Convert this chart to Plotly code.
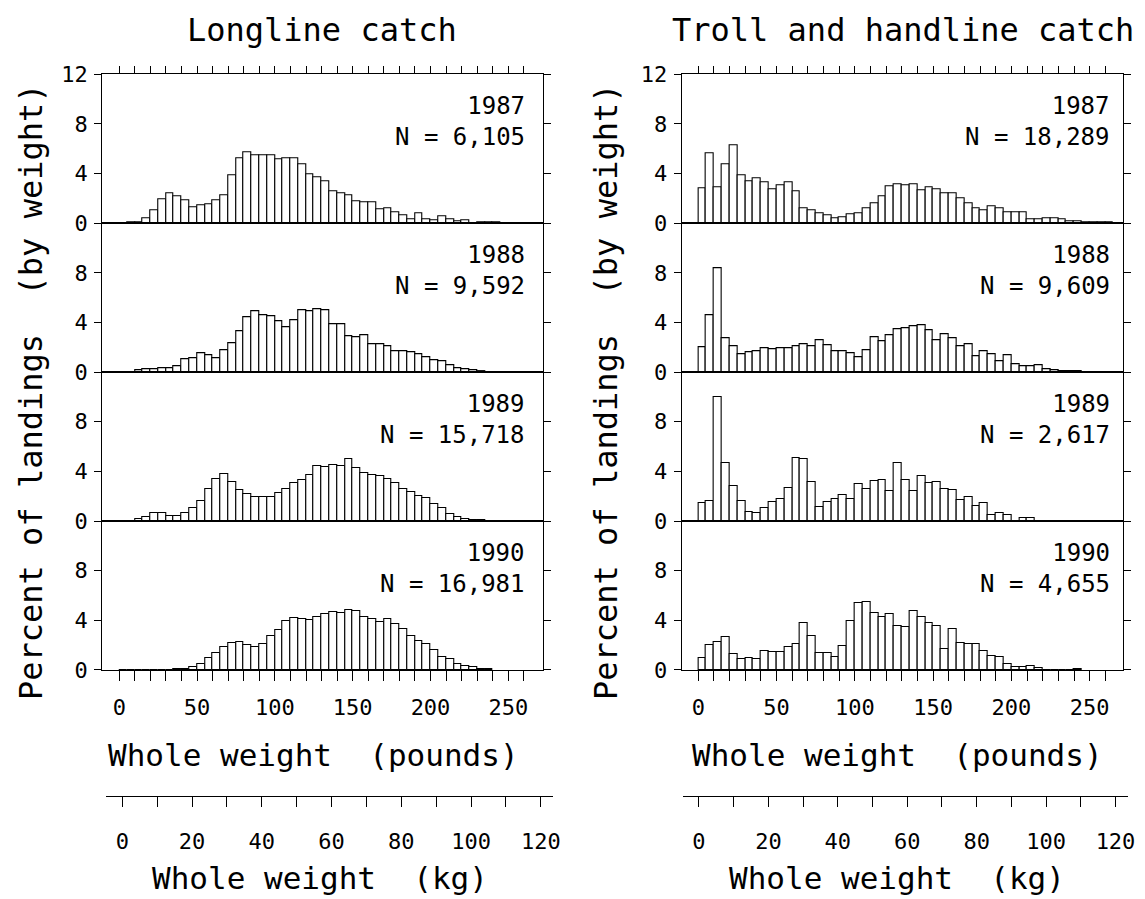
import numpy as np
import plotly.graph_objects as go

# ---------------- data (percent of landings by weight, 5-lb bins starting at 0 lb) -------------
BIN_WIDTH = 5
YEARS = ["1987", "1988", "1989", "1990"]

LL_N = ["6,105", "9,592", "15,718", "16,981"]
TR_N = ["18,289", "9,609", "2,617", "4,655"]

LL_1987 = [0.0, 0.05, 0.1, 0.43, 1.02, 1.96, 2.42, 2.15, 1.88, 1.29, 1.48, 1.56, 1.83, 2.23,
           3.84, 5.26, 5.72, 5.5, 5.45, 5.5, 5.18, 5.26, 5.26, 4.78, 3.92, 3.7, 3.36, 2.58,
           2.42, 2.28, 1.77, 1.69, 1.69, 1.15, 1.23, 0.89, 0.62, 0.35, 0.81, 0.35, 0.27, 0.54,
           0.35, 0.13, 0.21, 0.03, 0.05, 0.05, 0.05]
LL_1988 = [0.0, 0.02, 0.13, 0.21, 0.27, 0.29, 0.29, 0.48, 1.01, 1.15, 1.49, 1.36, 1.09, 1.73,
           2.29, 3.28, 4.4, 4.93, 4.61, 4.48, 4.13, 3.63, 4.16, 5.01, 4.88, 5.09, 4.96, 3.87,
           3.87, 2.93, 2.83, 2.96, 2.21, 2.21, 2.08, 1.68, 1.68, 1.6, 1.41, 1.2, 0.93, 0.88,
           0.56, 0.35, 0.21, 0.13, 0.08, 0.03]
LL_1989 = [0.0, 0.0, 0.13, 0.32, 0.62, 0.62, 0.4, 0.4, 0.62, 1.0, 1.62, 2.61, 3.37, 3.77,
           3.15, 2.48, 2.13, 1.94, 1.94, 1.94, 2.24, 2.61, 3.05, 3.29, 3.69, 4.45, 4.37, 4.5,
           4.45, 4.99, 4.26, 3.85, 3.72, 3.58, 3.37, 3.05, 2.61, 2.29, 2.02, 1.81, 1.4, 1.0,
           0.54, 0.32, 0.19, 0.08, 0.05]
LL_1990 = [0.0, 0.0, 0.02, 0.03, 0.03, 0.03, 0.03, 0.05, 0.08, 0.27, 0.46, 0.99, 1.39, 1.88,
           2.14, 2.23, 2.01, 1.88, 2.06, 2.76, 3.22, 3.94, 4.16, 4.08, 4.02, 4.29, 4.5, 4.69,
           4.61, 4.83, 4.75, 4.29, 4.08, 3.89, 4.1, 3.67, 3.3, 2.76, 2.36, 2.06, 1.61, 1.07,
           0.86, 0.48, 0.35, 0.21, 0.08, 0.05]

TR_1987 = [2.82, 5.67, 2.9, 4.76, 6.26, 3.84, 3.39, 3.58, 3.31, 2.72, 3.04, 3.31, 2.55, 1.21,
           1.02, 0.83, 0.62, 0.43, 0.48, 0.75, 0.83, 1.21, 1.64, 2.15, 2.96, 3.12, 3.09, 3.12,
           2.63, 2.9, 2.72, 2.45, 2.45, 2.04, 1.64, 1.21, 1.08, 1.34, 1.21, 0.89, 0.89, 0.89,
           0.35, 0.3, 0.4, 0.4, 0.3, 0.13, 0.13, 0.1, 0.1, 0.08, 0.05]
TR_1988 = [2.01, 4.61, 8.36, 2.73, 2.06, 1.47, 1.61, 1.66, 1.96, 1.88, 1.96, 1.96, 2.09, 2.28,
           2.06, 2.55, 2.14, 1.69, 1.66, 1.55, 1.21, 1.74, 2.82, 2.47, 2.95, 3.49, 3.54, 3.7,
           3.75, 3.4, 2.55, 3.03, 2.73, 2.09, 2.28, 1.26, 1.69, 1.42, 0.86, 1.34, 0.67, 0.48,
           0.46, 0.54, 0.21, 0.13, 0.05, 0.08, 0.08]
TR_1989 = [1.43, 1.57, 10.0, 4.65, 2.78, 1.62, 0.73, 0.62, 1.08, 1.49, 1.76, 2.65, 5.05, 4.95,
           3.11, 1.14, 1.54, 1.76, 2.08, 1.76, 2.97, 2.57, 3.19, 3.3, 2.38, 4.68, 3.3, 2.43,
           3.65, 3.03, 3.11, 2.57, 2.49, 1.68, 1.89, 1.22, 1.41, 0.46, 0.62, 0.46, 0.0, 0.22,
           0.27]
TR_1990 = [0.99, 2.01, 2.23, 2.68, 1.26, 0.86, 0.94, 0.86, 1.53, 1.47, 1.47, 1.82, 2.06, 3.81,
           2.73, 1.34, 1.34, 1.02, 1.93, 3.97, 5.42, 5.5, 4.61, 4.24, 4.5, 3.57, 3.49, 4.77,
           4.24, 3.81, 3.57, 1.69, 3.3, 2.14, 2.06, 2.09, 1.55, 1.13, 1.02, 0.46, 0.27, 0.27,
           0.32, 0.13, 0.03, 0.0, 0.0, 0.0, 0.08]

LB_TICKS = list(range(0, 261, 10))
LB_LABELS = [0, 50, 100, 150, 200, 250]
KG_TICKS = list(range(0, 121, 10))
KG_LABELS = [0, 20, 40, 60, 80, 100, 120]
Y_TICKS_TOP = [0, 4, 8, 12]
Y_TICKS = [0, 4, 8]

# ---------------- layout geometry (screen pixels; the page body adds an 8 px margin) --------
W, H = 1145, 899
OFF = 8
FONT = "DejaVu Sans Mono"


def px(x):
    return (x - OFF) / W


def py(y):
    return 1 - (y - OFF) / H


PANEL_TOP = 74.3
PANEL_H = 148.9

columns = [
    dict(x0=102.3, x1=542.7, xr=[-10.9, 272.1], kgdom=(106, 553), kgr=[-4.7, 123.5],
         title="Longline catch", title_x=322, lbt_x=313, kgt_x=320,
         series=[LL_1987, LL_1988, LL_1989, LL_1990], N=LL_N, ytitle_x=31, note_x=527),
    dict(x0=681.7, x1=1122.7, xr=[-10.6, 271.1], kgdom=(683, 1128), kgr=[-4.6, 123.6],
         title="Troll and handline catch", title_x=903, lbt_x=897, kgt_x=897,
         series=[TR_1987, TR_1988, TR_1989, TR_1990], N=TR_N, ytitle_x=606, note_x=1112),
]

fig = go.Figure()
layout = dict(
    width=W, height=H, margin=dict(l=0, r=0, t=0, b=0, autoexpand=False),
    paper_bgcolor="white", plot_bgcolor="white", showlegend=False, bargap=0,
    font=dict(family=FONT, color="black", size=22),
)
annotations = []

LINE_W = 1.3
TICK_FONT = dict(family=FONT, size=22, color="black")
idx = 0
for c, col in enumerate(columns):
    for k in range(4):
        idx += 1
        xa = "x" if idx == 1 else f"x{idx}"
        ya = "y" if idx == 1 else f"y{idx}"
        vals = np.array(col["series"][k], dtype=float)
        centers = np.arange(len(vals)) * BIN_WIDTH + BIN_WIDTH / 2
        fig.add_trace(go.Bar(
            x=centers, y=vals, width=BIN_WIDTH, xaxis=xa, yaxis=ya,
            marker=dict(color="white", line=dict(color="black", width=1.1)),
            hoverinfo="x+y",
        ))
        top = PANEL_TOP + k * PANEL_H
        bot = top + PANEL_H
        xdict = dict(
            domain=[px(col["x0"]), px(col["x1"])], range=col["xr"], anchor=ya,
            showgrid=False, zeroline=False, showline=True, mirror=True,
            linecolor="black", linewidth=LINE_W, automargin=False,
        )
        if k == 0:
            xdict.update(side="top", ticks="outside", ticklen=7, tickwidth=LINE_W,
                         tickcolor="black", tickvals=LB_TICKS, showticklabels=False)
        elif k == 3:
            xdict.update(side="bottom", ticks="outside", ticklen=10, tickwidth=LINE_W,
                         tickcolor="black", tickvals=LB_TICKS,
                         ticktext=[str(v) if v in LB_LABELS else "" for v in LB_TICKS],
                         tickfont=TICK_FONT, ticklabelstandoff=8)
        else:
            xdict.update(ticks="", showticklabels=False)
        ydict = dict(
            domain=[py(bot), py(top)], range=[0, 12], anchor=xa,
            showgrid=False, zeroline=False, showline=True, mirror="ticks",
            linecolor="black", linewidth=LINE_W, ticks="outside", ticklen=7,
            tickwidth=LINE_W, tickcolor="black",
            tickvals=Y_TICKS_TOP if k == 0 else Y_TICKS,
            ticktext=[str(v) for v in (Y_TICKS_TOP if k == 0 else Y_TICKS)],
            tickfont=TICK_FONT, ticklabelstandoff=2, automargin=False,
        )
        layout["xaxis" if idx == 1 else f"xaxis{idx}"] = xdict
        layout["yaxis" if idx == 1 else f"yaxis{idx}"] = ydict
        annotations.append(dict(
            xref="paper", yref="paper", x=px(col["note_x"]), y=py(top + 16),
            xanchor="right", yanchor="top", align="right", showarrow=False,
            text=f"{YEARS[k]}<br>N = {col['N'][k]}",
            font=dict(family=FONT, size=24, color="black"),
        ))

    # kg axis
    kidx = 9 + c
    fig.add_trace(go.Scatter(x=[None], y=[None], xaxis=f"x{kidx}", yaxis=f"y{kidx}",
                             hoverinfo="skip"))
    layout[f"xaxis{kidx}"] = dict(
        domain=[px(col["kgdom"][0]), px(col["kgdom"][1])], range=col["kgr"],
        anchor=f"y{kidx}", showgrid=False, zeroline=False, showline=True,
        linecolor="black", linewidth=LINE_W, ticks="outside", ticklen=10,
        tickwidth=LINE_W, tickcolor="black", tickvals=KG_TICKS,
        ticktext=[str(v) if v in KG_LABELS else "" for v in KG_TICKS],
        tickfont=TICK_FONT, ticklabelstandoff=15, automargin=False,
    )
    layout[f"yaxis{kidx}"] = dict(domain=[py(796), py(795)], visible=False, range=[0, 1],
                                  anchor=f"x{kidx}", automargin=False)

    annotations += [
        dict(xref="paper", yref="paper", x=px(col["title_x"]), y=py(30), text=col["title"],
             showarrow=False, xanchor="center", yanchor="middle",
             font=dict(family=FONT, size=32, color="black")),
        dict(xref="paper", yref="paper", x=px(col["lbt_x"]), y=py(755),
             text="Whole weight\u00a0\u00a0(pounds)", showarrow=False,
             xanchor="center", yanchor="middle",
             font=dict(family=FONT, size=31, color="black")),
        dict(xref="paper", yref="paper", x=px(col["kgt_x"]), y=py(878),
             text="Whole weight\u00a0\u00a0(kg)", showarrow=False,
             xanchor="center", yanchor="middle",
             font=dict(family=FONT, size=31, color="black")),
        dict(xref="paper", yref="paper", x=px(col["ytitle_x"]), y=py(392),
             text="Percent of landings\u00a0\u00a0(by weight)", showarrow=False,
             textangle=-90, xanchor="center", yanchor="middle",
             font=dict(family=FONT, size=32, color="black")),
    ]

layout["annotations"] = annotations
fig.update_layout(**layout)
fig.write_html("out.html")
